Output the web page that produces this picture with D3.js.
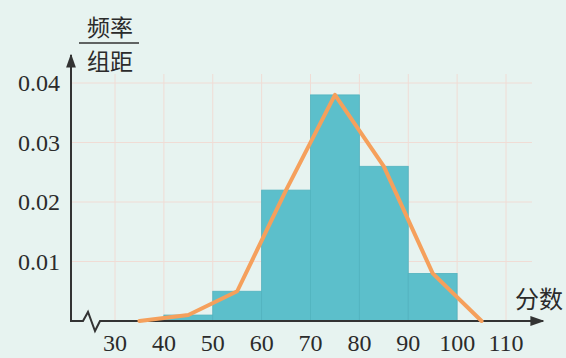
<!DOCTYPE html>
<html>
<head>
<meta charset="utf-8">
<script src="https://cdn.jsdelivr.net/npm/d3@7"></script>
<style>
  html, body { margin: 0; padding: 0; background: #e7f3f0; }
  svg { display: block; }
  .tick-label { font-family: "Liberation Serif", "DejaVu Serif", serif; font-size: 24px; fill: #2b2b2b; }
  .cjk { font-family: "Noto Sans CJK SC", sans-serif; font-size: 23px; fill: #2b2b2b; }
</style>
</head>
<body>
<svg id="chart"></svg>
<script>
// bins: [start, end) of each score group and its frequency / group width
const binStarts = [40, 50, 60, 70, 80, 90];
const binDensity = [0.001, 0.005, 0.022, 0.038, 0.026, 0.008];
// frequency polygon points (midpoints, plus the two ends at zero)
const polyX = [35, 45, 55, 65, 75, 85, 95, 105];
const polyY = [0, 0.001, 0.005, 0.022, 0.038, 0.026, 0.008, 0];
const xTicks = [30, 40, 50, 60, 70, 80, 90, 100, 110];
const yTicks = [0.01, 0.02, 0.03, 0.04];

const width = 566;
const height = 358;
const axisX = 71;   // y axis position
const teal = "#5cbfcb";
const orange = "#f5a05c";
const axisColor = "#333";
const gridColor = "#f0dcd5";

const svg = d3.select("#chart").attr("width", width).attr("height", height);

const xScale = d3.scaleLinear().domain([30, 110]).range([115, 506]);
const yScale = d3.scaleLinear().domain([0, 0.04]).range([321, 83]);

// grid
const grid = svg.append("g").attr("class", "grid");
grid.selectAll("line.h")
  .data(yTicks)
  .enter()
  .append("line")
  .attr("x1", axisX)
  .attr("x2", 532)
  .attr("y1", (d) => yScale(d))
  .attr("y2", (d) => yScale(d))
  .attr("stroke", gridColor)
  .attr("stroke-width", 1);
grid.selectAll("line.v")
  .data(xTicks)
  .enter()
  .append("line")
  .attr("x1", (d) => xScale(d))
  .attr("x2", (d) => xScale(d))
  .attr("y1", 74)
  .attr("y2", yScale(0))
  .attr("stroke", gridColor)
  .attr("stroke-width", 1);

// histogram
svg.append("g")
  .selectAll("rect")
  .data(binStarts)
  .enter()
  .append("rect")
  .attr("x", (d) => xScale(d))
  .attr("y", (d, i) => yScale(binDensity[i]))
  .attr("width", (d) => xScale(d + 10) - xScale(d))
  .attr("height", (d, i) => yScale(0) - yScale(binDensity[i]))
  .attr("fill", teal)
  .attr("stroke", "#52b3bf")
  .attr("stroke-width", 0.8);

// axes
const defs = svg.append("defs");
defs.append("marker")
  .attr("id", "arrow")
  .attr("viewBox", "0 0 10 10")
  .attr("refX", 9)
  .attr("refY", 5)
  .attr("markerWidth", 7)
  .attr("markerHeight", 7)
  .attr("orient", "auto")
  .append("path")
  .attr("d", "M0,1.5 L10,5 L0,8.5 Z")
  .attr("fill", axisColor);

svg.append("line")
  .attr("x1", axisX)
  .attr("y1", yScale(0) + 1)
  .attr("x2", axisX)
  .attr("y2", 55)
  .attr("stroke", axisColor)
  .attr("stroke-width", 2)
  .attr("marker-end", "url(#arrow)");

const y0 = yScale(0);
const brk = d3.path();
brk.moveTo(axisX, y0);
brk.lineTo(83, y0);
brk.lineTo(88, y0 - 9);
brk.lineTo(95, y0 + 10);
brk.lineTo(100, y0);
brk.lineTo(543, y0);
svg.append("path")
  .attr("d", brk.toString())
  .attr("fill", "none")
  .attr("stroke", axisColor)
  .attr("stroke-width", 2)
  .attr("stroke-linejoin", "miter")
  .attr("marker-end", "url(#arrow)");

// frequency polygon
const line = d3.line()
  .x((d) => xScale(d[0]))
  .y((d) => yScale(d[1]));
svg.append("path")
  .datum(polyX.map((x, i) => [x, polyY[i]]))
  .attr("d", line)
  .attr("fill", "none")
  .attr("stroke", orange)
  .attr("stroke-width", 4)
  .attr("stroke-linejoin", "round")
  .attr("stroke-linecap", "round");

// tick labels
svg.append("g")
  .selectAll("text")
  .data(xTicks)
  .enter()
  .append("text")
  .attr("class", "tick-label")
  .attr("x", (d) => xScale(d))
  .attr("y", 351)
  .attr("text-anchor", "middle")
  .text((d) => d);

svg.append("g")
  .selectAll("text")
  .data(yTicks)
  .enter()
  .append("text")
  .attr("class", "tick-label")
  .attr("x", 60)
  .attr("y", (d) => yScale(d) + 8)
  .attr("text-anchor", "end")
  .text((d) => d3.format(".2f")(d));

// axis titles
svg.append("text").attr("class", "cjk").attr("x", 110).attr("y", 36).attr("text-anchor", "middle").text("频率");
svg.append("line").attr("x1", 79).attr("x2", 139).attr("y1", 43).attr("y2", 43).attr("stroke", axisColor).attr("stroke-width", 1.5);
svg.append("text").attr("class", "cjk").attr("x", 110).attr("y", 70).attr("text-anchor", "middle").text("组距");
svg.append("text").attr("class", "cjk").attr("x", 539).attr("y", 308).attr("text-anchor", "middle").style("font-size", "24px").text("分数");
</script>
</body>
</html>
